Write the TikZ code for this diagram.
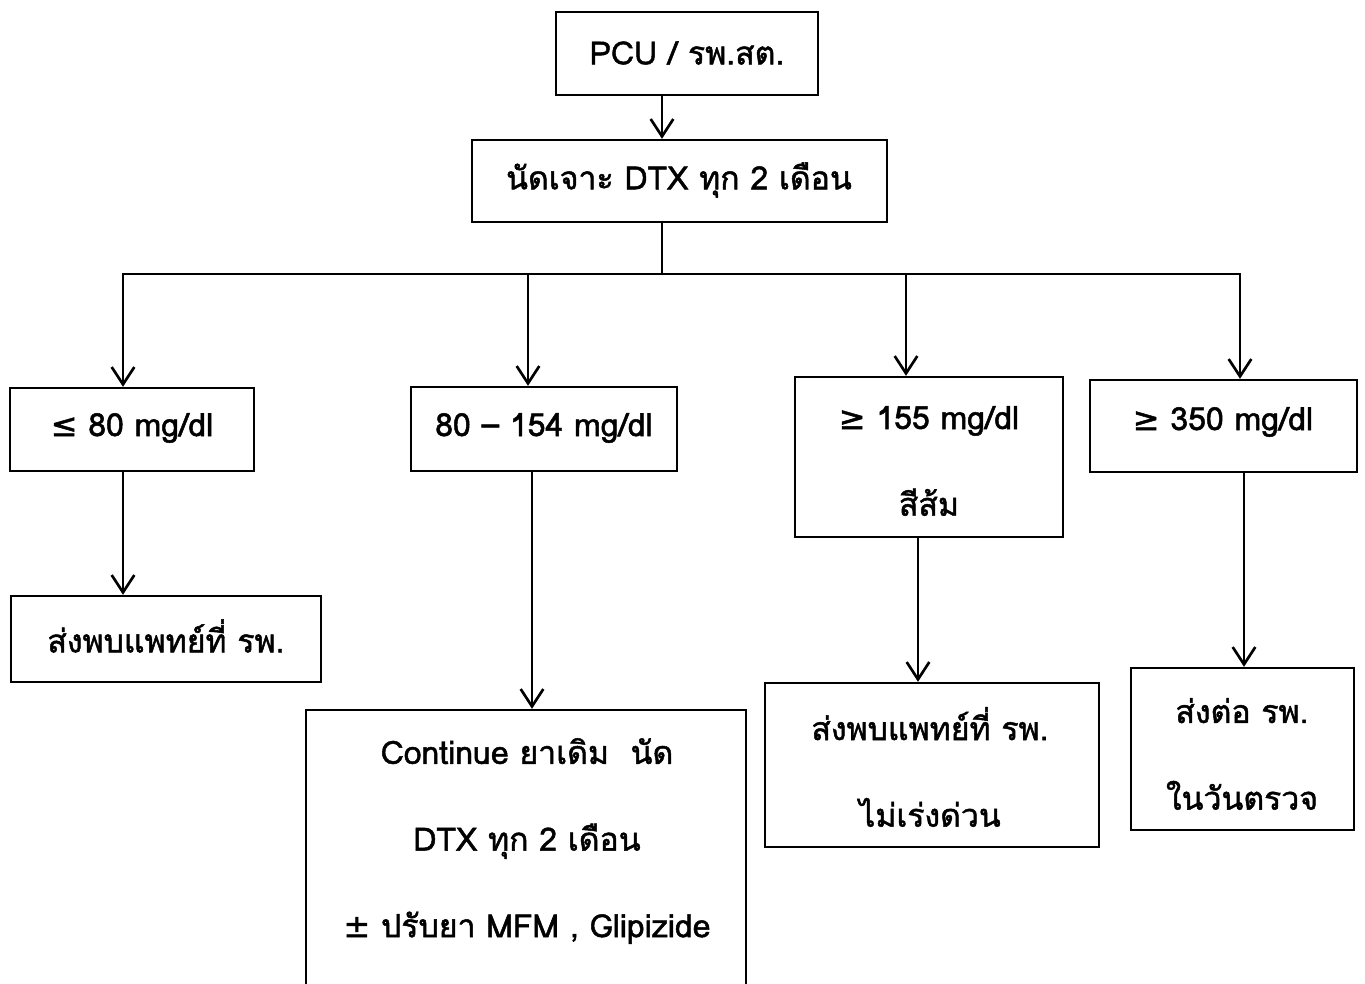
\documentclass[tikz,border=0pt]{standalone}
\usepackage{fontspec}
\setmainfont[Script=Thai,FakeBold=1.5]{Loma}
\newfontfamily\symfont[FakeBold=1.5]{DejaVu Sans}
\usetikzlibrary{arrows.meta,fit}

\tikzset{
  box/.style={draw, line width=1.8pt, inner sep=0pt},
  lbl/.style={font=\fontsize{24}{65}\selectfont, align=center, inner sep=0pt},
  wire/.style={line width=1.8pt},
  arr/.style={line width=1.8pt, -{Straight Barb[length=13pt,width=17pt,line width=2pt]}},
}

\begin{document}
\begin{tikzpicture}[x=0.75pt,y=-0.75pt]
  \useasboundingbox (0,0) rectangle (1365,983);
  \clip (0,0) rectangle (1365,983);

  % frames
  \node[box, fit={(556,12) (818,95)}] (pcu) {};
  \node[box, fit={(472,140) (887,222)}] (dtx) {};
  \node[box, fit={(10,388) (254,471)}] (b1) {};
  \node[box, fit={(411,387) (677,471)}] (b2) {};
  \node[box, fit={(795,377) (1063,537)}] (b3) {};
  \node[box, fit={(1090,380) (1357,472)}] (b4) {};
  \node[box, fit={(11,596) (321,682)}] (b5) {};
  \node[box, fit={(306,710) (746,1010)}] (b6) {};
  \node[box, fit={(765,683) (1099,847)}] (b7) {};
  \node[box, fit={(1131,668) (1354,830)}] (b8) {};

  % texts
  \node[lbl] (pcu-t) at (687,53) {PCU / รพ.สต.};
  \node[lbl] (dtx-t) at (679,180) {นัดเจาะ DTX ทุก 2 เดือน};
  \node[lbl] (b1-t) at (132,428) {{\symfont ≤} 80 mg/dl};
  \node[lbl] (b2-t) at (544,428) {80 – 154 mg/dl};
  \node[lbl] (b3-t) at (929,461) {{\symfont ≥} 155 mg/dl\\สีส้ม};
  \node[lbl] (b4-t) at (1223,422) {{\symfont ≥} 350 mg/dl};
  \node[lbl] (b5-t) at (166,636) {ส่งพบแพทย์ที่ รพ.};
  \node[lbl] (b6-t) at (527,841) {Continue ยาเดิม\ \ นัด\\DTX ทุก 2 เดือน\\{\symfont ±} ปรับยา MFM , Glipizide};
  \node[lbl] (b7-t) at (930,767) {ส่งพบแพทย์ที่ รพ.\\ไม่เร่งด่วน};
  \node[lbl] (b8-t) at (1242,754) {ส่งต่อ รพ.\\ในวันตรวจ};

  % connector columns
  \coordinate (bus)  at (662,274);
  \coordinate (k1)   at (123,274);
  \coordinate (k2)   at (528,274);
  \coordinate (k3)   at (906,274);
  \coordinate (k4)   at (1240,274);
  \coordinate (d1)   at (123,0);
  \coordinate (d2)   at (532,0);
  \coordinate (d3)   at (918,0);
  \coordinate (d4)   at (1244,0);

  \draw[arr] (bus |- pcu.south) -- (bus |- dtx.north);
  \draw[wire] (bus |- dtx.south) -- (bus);
  \draw[wire, line cap=rect] (k1) -- (k4);
  \draw[arr] (k1) -- (k1 |- b1.north);
  \draw[arr] (k2) -- (k2 |- b2.north);
  \draw[arr] (k3) -- (k3 |- b3.north);
  \draw[arr] (k4) -- (k4 |- b4.north);

  \draw[arr] (d1 |- b1.south) -- (d1 |- b5.north);
  \draw[arr] (d2 |- b2.south) -- (d2 |- b6.north);
  \draw[arr] (d3 |- b3.south) -- (d3 |- b7.north);
  \draw[arr] (d4 |- b4.south) -- (d4 |- b8.north);
\end{tikzpicture}
\end{document}
